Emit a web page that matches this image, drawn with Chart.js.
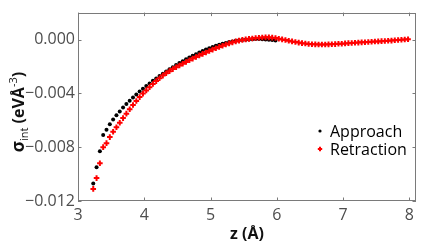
<!DOCTYPE html>
<html><head><meta charset="utf-8">
<script src="https://cdn.jsdelivr.net/npm/chart.js@4"></script>
<style>html,body{margin:0;padding:0;background:#fff}#wrap{width:444px;height:242px}</style>
</head><body><div id="wrap"><canvas id="c" width="444" height="242"></canvas></div>
<script>
const zValues = [
3.23,3.28,3.33,3.38,3.43,3.48,3.53,3.58,3.63,3.68,
3.73,3.78,3.83,3.88,3.93,3.98,4.03,4.08,4.13,4.18,
4.23,4.28,4.33,4.38,4.43,4.48,4.53,4.58,4.63,4.68,
4.73,4.78,4.83,4.88,4.93,4.98,5.03,5.08,5.13,5.18,
5.23,5.28,5.33,5.38,5.43,5.48,5.53,5.58,5.63,5.68,
5.73,5.78,5.83,5.88,5.93,5.98,6.03,6.08,6.13,6.18,
6.23,6.28,6.33,6.38,6.43,6.48,6.53,6.58,6.63,6.68,
6.73,6.78,6.83,6.88,6.93,6.98,7.03,7.08,7.13,7.18,
7.23,7.28,7.33,7.38,7.43,7.48,7.53,7.58,7.63,7.68,
7.73,7.78,7.83,7.88,7.93,7.98];
const approach = [
-0.0107,-0.0095,-0.0083,-0.0071,-0.0067,-0.0063,-0.00594,-0.00562,-0.00534,-0.00505,
-0.00479,-0.00455,-0.00431,-0.00408,-0.00386,-0.00365,-0.00345,-0.00326,-0.00307,-0.00289,
-0.00271,-0.00254,-0.00237,-0.00221,-0.00206,-0.00190,-0.00175,-0.00161,-0.00147,-0.00134,
-0.00121,-0.00109,-0.00097,-0.00086,-0.00075,-0.00065,-0.00056,-0.00047,-0.00039,-0.00032,
-0.00025,-0.00019,-0.00014,-0.00010,-0.00006,-0.00003,-0.00001,0.00001,0.00002,0.00003,
0.00003,0.00002,0.00001,-0.00001,-0.00004,-0.00008];
const retraction = [
-0.0111,-0.0103,-0.0092,-0.0080,-0.0077,-0.00725,-0.00685,-0.00652,-0.00618,-0.00584,
-0.00551,-0.00518,-0.00487,-0.00457,-0.00428,-0.00402,-0.00378,-0.00354,-0.00331,-0.00309,
-0.00288,-0.00268,-0.00251,-0.00235,-0.00220,-0.00206,-0.00193,-0.00180,-0.00167,-0.00154,
-0.00142,-0.00130,-0.00118,-0.00107,-0.00096,-0.00085,-0.00075,-0.00065,-0.00055,-0.00046,
-0.00037,-0.00029,-0.00021,-0.00014,-0.00008,-0.00003,0.00001,0.00005,0.00008,0.00011,
0.00013,0.00015,0.00016,0.00016,0.00014,0.00011,0.00006,0.00001,-0.00004,-0.00009,
-0.00014,-0.00019,-0.00023,-0.00027,-0.00030,-0.00033,-0.00035,-0.00036,-0.00037,-0.00037,
-0.00037,-0.00036,-0.00035,-0.00034,-0.00032,-0.00031,-0.00029,-0.00027,-0.00026,-0.00024,
-0.00023,-0.00021,-0.00020,-0.00018,-0.00017,-0.00015,-0.00014,-0.00012,-0.00011,-0.00009,
-0.00008,-0.00006,-0.00004,-0.00002,0.00000,0.00002];
const seriesNames = ['Approach','Retraction'];
const xTicks = [3,4,5,6,7,8];
const xTickLabels = ['3','4','5','6','7','8'];
const yTicks = [-0.012,-0.008,-0.004,0];
const yTickLabels = ['\u22120.012','\u22120.008','\u22120.004','0.000'];

const FONT = "'Open Sans', sans-serif";
const frameColor = '#7a7a7a';

const framePlugin = {
  id: 'frame',
  beforeDatasetsDraw(chart) {
    const {ctx, chartArea: a, scales} = chart;
    ctx.save();
    ctx.strokeStyle = frameColor;
    ctx.lineWidth = 1;
    ctx.strokeRect(Math.round(a.left)+0.5, Math.round(a.top)+0.5, Math.round(a.right-a.left)-1, Math.round(a.bottom-a.top)-1);
    const L = 3.5;
    ctx.beginPath();
    xTicks.forEach(v => {
      const px = Math.round(scales.x.getPixelForValue(v)) + 0.5;
      ctx.moveTo(px, a.bottom); ctx.lineTo(px, a.bottom - L);
      ctx.moveTo(px, a.top); ctx.lineTo(px, a.top + L);
    });
    yTicks.forEach(v => {
      const py = Math.round(scales.y.getPixelForValue(v)) + 0.5;
      ctx.moveTo(a.left, py); ctx.lineTo(a.left + L, py);
      ctx.moveTo(a.right, py); ctx.lineTo(a.right - L, py);
    });
    ctx.stroke();
    ctx.restore();
  },
  afterDraw(chart) {
    const {ctx, chartArea: a} = chart;
    ctx.save();
    ctx.fillStyle = '#111';
    ctx.font = "bold 16px " + FONT;
    ctx.textAlign = 'center';
    ctx.textBaseline = 'alphabetic';
    ctx.fillText('z (\u00c5)', (a.left + a.right) / 2, 239);
    ctx.translate(24, 112);
    ctx.rotate(-Math.PI / 2);
    const parts = [
      {t: '\u03c3', f: "bold 17px " + FONT, dy: 0},
      {t: 'int', f: "11px " + FONT, dy: 4},
      {t: ' (eV\u00c5', f: "bold 16px " + FONT, dy: 0},
      {t: '-3', f: "11px " + FONT, dy: -7},
      {t: ')', f: "bold 16px " + FONT, dy: 0}
    ];
    let w = 0;
    parts.forEach(p => { ctx.font = p.f; w += ctx.measureText(p.t).width; });
    let x = -w / 2;
    ctx.textAlign = 'left';
    parts.forEach(p => { ctx.font = p.f; ctx.fillText(p.t, x, p.dy); x += ctx.measureText(p.t).width; });
    ctx.restore();
    ctx.save();
    ctx.font = "16px " + FONT;
    ctx.textAlign = 'left';
    ctx.textBaseline = 'alphabetic';
    const rows = [137, 155];
    chart.data.datasets.forEach((ds, i) => {
      const cy = rows[i] - 6;
      ctx.fillStyle = ds.backgroundColor;
      ctx.strokeStyle = ds.borderColor;
      ctx.lineWidth = ds.borderWidth;
      if (ds.pointStyle === 'circle') {
        ctx.beginPath(); ctx.arc(320, cy, 1.6, 0, Math.PI*2); ctx.fill();
      } else {
        Chart.helpers.drawPoint(ctx, {pointStyle: ds.pointStyle, radius: 2.2, borderWidth: ds.borderWidth, rotation: 0}, 320, cy);
      }
      ctx.fillStyle = '#000';
      ctx.fillText(ds.label, 330, rows[i]);
    });
    ctx.restore();
  }
};

new Chart(document.getElementById('c'), {
  type: 'scatter',
  data: {
    datasets: [
      {
        label: seriesNames[0],
        data: approach.map((v, i) => ({x: zValues[i], y: v})),
        pointStyle: 'circle', pointRadius: 2, borderWidth: 0,
        backgroundColor: '#000', borderColor: '#000', order: 1
      },
      {
        label: seriesNames[1],
        data: retraction.map((v, i) => ({x: zValues[i], y: v})),
        pointStyle: 'cross', pointRadius: 2.8, borderWidth: 2,
        backgroundColor: '#ff0000', borderColor: '#ff0000', order: 0
      }
    ]
  },
  options: {
    responsive: false, animation: false, devicePixelRatio: 1,
    layout: {padding: {left: 0, right: 28, top: 6, bottom: 0}},
    plugins: {legend: {display: false}, tooltip: {enabled: false}},
    scales: {
      x: {
        type: 'linear', min: 3, max: 8.1,
        grid: {display: false, drawTicks: false}, border: {display: false},
        afterBuildTicks: s => { s.ticks = xTicks.map(v => ({value: v})); },
        afterFit: s => { s.height = 41; },
        ticks: {padding: 5, color: '#4d4d4d', font: {family: FONT, size: 16}, maxRotation: 0,
          callback: (v) => xTickLabels[xTicks.indexOf(v)]}
      },
      y: {
        type: 'linear', min: -0.012, max: 0.002,
        grid: {display: false, drawTicks: false}, border: {display: false},
        afterBuildTicks: s => { s.ticks = yTicks.map(v => ({value: v})); },
        afterFit: s => { s.width = 78; },
        ticks: {padding: 3, color: '#4d4d4d', font: {family: FONT, size: 16},
          callback: (v) => yTickLabels[yTicks.indexOf(v)]}
      }
    }
  },
  plugins: [framePlugin]
});
</script>
</body></html>
